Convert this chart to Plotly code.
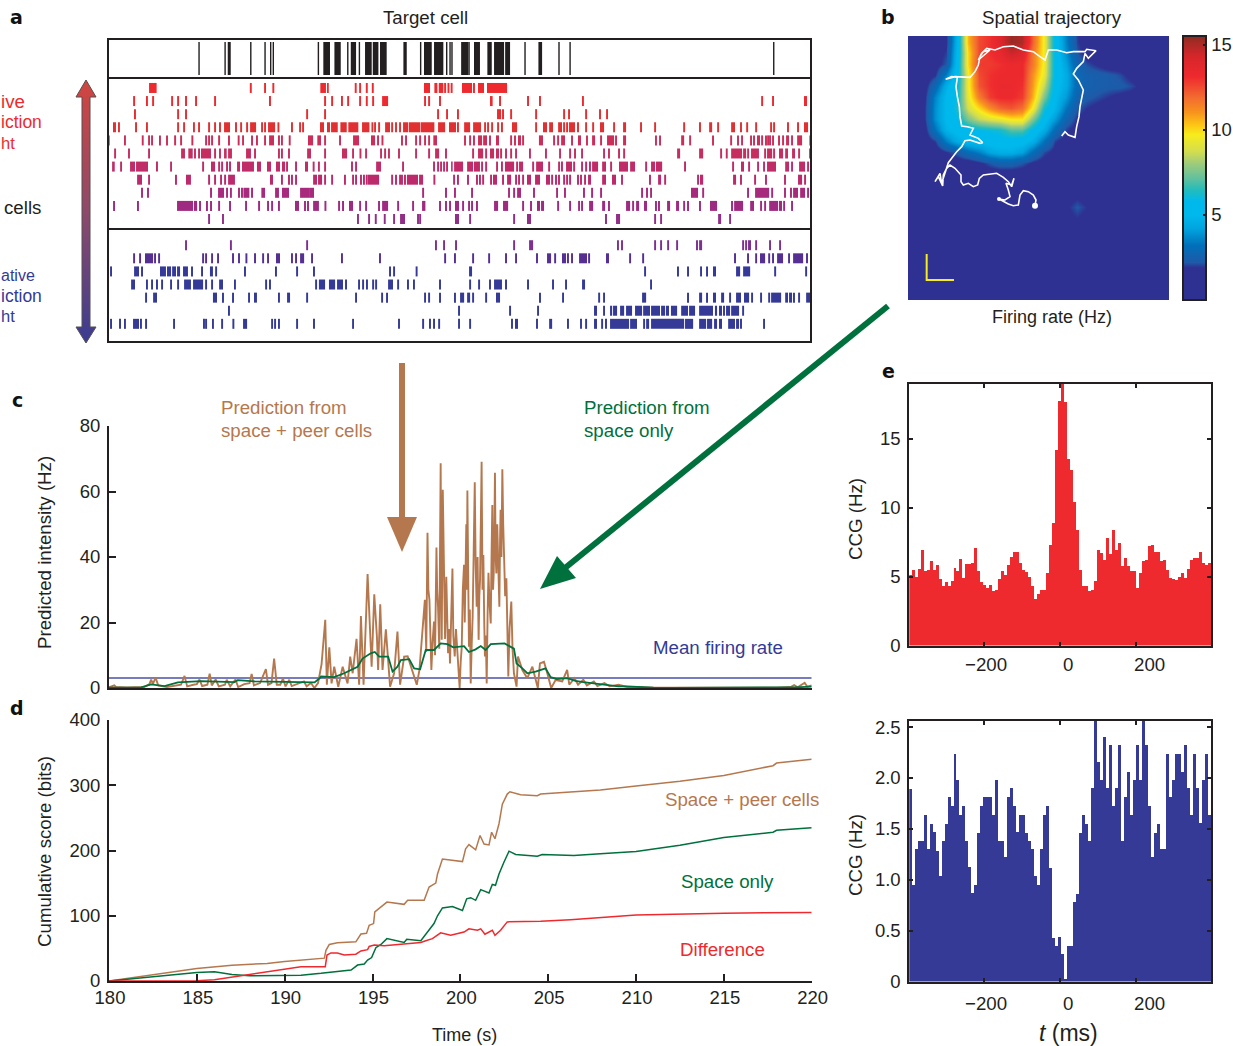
import plotly.graph_objects as go

W, H = 1233, 1046
INK = "#231F20"
RED = "#EE2A2E"
BLUE = "#343A96"
BROWN = "#B5784E"
GREEN = "#00703C"
FONT = "Liberation Sans"

# ---------- panel a: spike times (s); a float is one spike, a tuple is a burst (start, end)
target_cell = [185.19, 186.67, (186.82, 186.99), 188.13, 188.94, 189.26, 189.41, 191.97, (192.25, 192.63),
               (192.88, 193.24), 193.64, (193.81, 194.11), 194.30, (194.62, 195.0), (195.06, 195.38), (195.47, 195.85),
               (196.8, 196.99), 197.78, (197.97, 198.41), (198.54, 199.07), 199.26, 199.45, 199.56,
               (200.08, 200.49), 200.53, (200.81, 201.15), (201.57, 201.82), (201.95, 202.52), (202.58, 202.86),
               203.71, (204.47, 204.68), 205.64, 206.27, 217.84]
rows_top = [
    [(182.35, 182.78), 188.13, 188.94, 189.41, (192.08, 192.4), (192.46, 192.56), 194.09, 194.34, 194.72, 195.06,
     (197.97, 198.31), (198.56, 198.73), (198.81, 199.07), 199.17, 199.36, 199.54, (200.13, 200.7), 200.81,
     (201.04, 201.38), (201.55, 202.69)],
    [181.5, 182.23, 182.58, 183.66, 184.0, 184.45, 185.02, 186.1, 189.22, 192.35, 192.75, 193.31, 193.66, 194.34,
     194.72, 195.08, (195.59, 195.93), 198.03, 198.26, 198.88, (201.72, 201.87), 202.29, 203.88, 204.56, 207.0,
     217.18, 217.8, (219.56, 219.73)],
    [181.55, 184.0, 184.45, 191.33, 192.35, 198.77, 199.28, 199.9, (202.12, 202.35), 202.46, 202.92, 204.34, 205.93,
     206.21, 207.18, 207.97, 208.37],
    [(180.3, 180.47), 180.64, 181.61, 182.23, 184.0, 184.34, 184.9, 185.19, 185.76, 186.1, 186.38, (186.61, 186.95),
     187.29, 187.58, 187.92, (188.09, 188.43), 188.77, 188.94, (189.11, 189.51), 189.7, 190.47, 190.93, 191.1,
     (192.06, 192.29), (192.46, 192.63), (192.69, 193.07), (193.22, 193.58), (193.67, 194.24), (194.45, 194.87),
     195.04, 195.19, 195.42, (195.76, 196.04), 196.16, 196.38, 196.61, (196.78, 197.06), (197.1, 197.75),
     (197.78, 198.56), (198.77, 199.17), (199.39, 199.79), 199.9, (200.25, 200.59), (200.76, 201.21), 201.44, 201.61,
     201.84, 202.18, 202.4, (202.97, 203.26), 204.34, (204.73, 204.96), (205.08, 205.3), (205.59, 205.81), 205.93,
     206.1, (206.21, 206.55), 206.72, 207.18, 207.58, (207.97, 208.2), 208.77, (209.28, 209.45), 210.3, 211.1,
     212.75, 213.65, (214.17, 214.34), 214.68, (215.42, 215.64), 215.98, 216.33, 216.84, 217.69, 217.86, 218.65,
     219.22, (219.56, 219.79), 219.96],
    [180.06, 180.98, 181.99, 182.35, 182.52, 182.97, 183.37, 183.83, 184.17, 184.81, 185.59, 185.76, 185.93, 186.33,
     186.89, 187.44, 187.69, 188.2, 188.48, 188.94, (189.17, 189.45), 189.73, 189.9, 190.34, (191.38, 191.67),
     (191.91, 192.12), 192.35, 193.2, (193.94, 194.28), (194.96, 195.19), 195.36, 195.61, 196.72, 196.95, 197.52,
     197.75, 198.03, 198.26, (198.5, 198.71), 200.3, 200.59, 200.81, (201.04, 201.27), (201.33, 201.55), 201.72,
     (202.06, 202.23), 202.92, 203.14, (203.31, 203.48), 203.6, (204.5, 204.73), 205.36, 205.59, (205.76, 205.98),
     206.38, (206.72, 206.89), 207.23, (207.52, 207.69), 208.03, (208.37, 208.77), 208.88, (209.28, 209.45), 211.15,
     211.38, (212.58, 212.75), 213.09, 214.39, 215.42, 215.81, 216.04, 216.55, 216.72, (216.89, 217.06), 217.18,
     217.4, 217.52, 217.63, 217.8, 218.14, 218.37, (218.54, 218.71), 218.88, (219.17, 219.45), 219.92],
    [180.42, 181.21, 182.35, (184.17, 184.39), (184.58, 184.83), 184.96, 185.19, (185.3, 185.87), 186.1, 186.38,
     (186.61, 186.76), (186.84, 187.06), (187.86, 188.14), 188.37, 189.73, 189.9, 190.3, (191.33, 191.55), 192.35,
     (193.31, 193.6), 193.94, 194.36, 194.68, 195.53, 195.76, 195.98, 196.55, 197.52, 198.26, (198.6, 198.83), 199.22,
     200.76, (201.04, 201.33), 201.5, (201.72, 201.95), (202.06, 202.23), 202.35, 202.63, 202.92, 203.2, 203.99,
     204.9, 205.7, 206.27, 206.55, 206.95, 208.2, 208.48, 209.05, 209.34, (212.35, 212.52), (213.6, 213.83), 214.85,
     215.17, (215.42, 216.04), (216.1, 216.27), (216.33, 216.44), (216.55, 217.0), 217.35, (217.46, 217.75), 217.86,
     (218.14, 218.37), (218.49, 218.65), (218.88, 219.05), 219.28, (219.85, 220.0)],
    [(180.25, 180.4), 180.76, (181.27, 181.55), (181.61, 182.29), 182.8, 183.6, 185.42, (185.87, 186.1), 186.33, 186.5,
     186.78, 186.95, (187.35, 187.52), (187.63, 188.31), (188.48, 188.71), (189.05, 189.28), (189.56, 189.79),
     (189.9, 190.08), 190.19, 190.7, (191.21, 191.38), 191.7, 192.0, 192.35, 193.88, 194.11, (195.25, 195.53), 196.78,
     198.54, 198.77, 198.94, 199.11, 199.28, (199.51, 199.6), (199.68, 200.19), (200.42, 200.76), (200.81, 201.15),
     201.27, 201.5, 202.12, 202.4, (202.57, 203.09), 203.26, (203.37, 203.6), 204.17, (204.34, 204.73), 205.08,
     (205.59, 205.7), 205.81, (206.04, 206.38), 206.5, 206.95, 207.18, 207.4, (207.52, 207.86), (208.09, 208.31),
     208.6, (209.05, 209.56), (209.68, 209.96), 210.59, (210.87, 211.1), (211.15, 211.5), 212.8, 215.53,
     (215.98, 216.15), 216.44, 216.95, 217.29, (217.46, 217.97), (218.49, 218.71), 218.88, (219.28, 219.62), 219.79],
    [(181.67, 181.95), 182.35, 183.88, (184.45, 184.73), 185.76, 186.1, 186.44, 186.67, (186.84, 187.23),
     (189.22, 189.39), 189.9, 190.3, 190.47, 190.7, (191.67, 191.89), (191.95, 192.18), 192.35, 192.75, 193.48, 193.94,
     194.11, 194.39, 194.56, 194.72, (194.79, 195.42), 196.16, 196.38, 196.61, 196.72, 196.89, (197.0, 197.63),
     (197.69, 197.92), 198.56, 199.68, 199.9, 200.47, 200.98, 201.15, 201.33, 201.78, (201.89, 202.12), 202.46,
     (202.69, 202.92), 203.2, 203.37, 203.6, (203.82, 204.05), (204.28, 204.56), (204.9, 205.13), 205.25, 205.47,
     205.64, 205.93, 206.1, 206.27, 206.72, 206.89, 207.12, (207.29, 207.46), (208.09, 208.31), (208.65, 208.88),
     209.22, 210.81, (211.27, 211.44), 211.67, 213.54, (213.65, 213.83), (215.53, 215.7), 215.98, 216.78, 217.4,
     218.48, (219.22, 219.45), 219.62],
    [181.95, 182.29, 185.87, (186.27, 186.61), 186.78, 187.0, 187.46, 187.63, (187.71, 188.05), 188.2,
     (188.73, 188.94), (189.51, 189.73), (189.9, 190.3), (190.93, 191.44), (191.44, 191.72), 197.92, 199.22, 199.73,
     200.7, 202.8, 203.09, (203.26, 203.48), 204.22, 205.53, 205.98, 207.06, 207.52, 208.03, 210.36, 210.64, 210.87,
     (213.14, 213.54), 213.83, 216.38, (216.78, 217.58), 217.75, 218.48, 218.82, (218.94, 219.22), (219.34, 219.62),
     219.79],
    [180.36, 181.72, (183.94, 184.85), (184.9, 185.08), (185.19, 185.3), 185.64, 185.87, 186.33, 186.95, 187.86, 188.6,
     189.11, 189.34, 189.73, (190.64, 190.87), 191.21, 191.38, (191.67, 192.0), 192.37, (193.09, 193.2), 193.37,
     (193.71, 193.94), 194.34, 194.68, (195.36, 195.47), (195.59, 195.93), 196.5, 197.35, (197.86, 198.05), 198.88,
     199.22, 199.45, (199.73, 199.96), 200.19, 200.53, 200.7, 200.98, (201.95, 202.18), (202.46, 202.75), 203.6,
     204.05, (204.39, 204.56), (204.62, 204.79), 205.59, 206.27, 206.78, 206.95, (207.35, 207.58), (208.09, 208.26),
     208.48, (209.45, 209.68), 209.85, (210.02, 210.19), (210.47, 210.64), 211.15, 211.32, (211.78, 211.95),
     (212.29, 212.46), 212.75, 212.97, 213.65, (214.22, 214.62), 215.47, (215.59, 216.1), (216.5, 216.72), 217.12,
     217.35, (217.58, 218.09), (218.14, 218.31), 218.43, 218.88, 219.96],
    [185.76, 186.55, 194.22, 194.85, 195.23, 195.74, 196.27, (196.61, 196.89), 197.63, 197.75, (199.73, 199.96), 200.59,
     203.09, (203.82, 204.05), 208.31, (208.88, 209.11), 211.1, 211.44, (214.68, 214.85), 215.36],
]
rows_bottom = [
    [184.45, 187.0, 191.33, 198.65, 199.11, 199.79, 203.09, (203.94, 204.17), 208.99, 209.22, 211.1, 211.44, 211.84,
     212.35, 213.48, (213.6, 213.77), 216.1, 216.27, (216.38, 216.55), 216.84, 217.63, 218.2],
    [181.5, 181.84, (182.12, 182.58), 182.69, 182.92, 185.42, 185.59, 185.93, 186.27, 187.12, 187.46, 187.88, 188.37,
     188.83, 189.11, (189.56, 189.79), 190.47, 190.7, (190.93, 191.16), 191.61, 193.31, 195.47, 199.17, 199.73, 200.76,
     201.67, 202.63, 203.2, 204.39, (204.96, 205.19), 205.42, (205.81, 206.04), 206.15, 206.38, (206.78, 207.23),
     207.35, (208.31, 208.48), 209.68, 210.42, 215.64, 216.38, 216.84, (217.06, 217.35), 217.58, 217.8,
     (218.03, 218.37), 218.71, (218.94, 219.51), 219.73],
    [180.19, (181.5, 181.78), 181.95, (182.97, 183.31), (183.37, 183.6), (183.66, 183.88), (183.94, 184.11),
     (184.28, 184.56), 184.79, 185.36, (185.81, 185.98), 186.16, 187.8, 189.56, 190.76, 191.72, 196.04, 196.27, 197.55,
     (200.53, 200.7), 210.53, 212.4, 212.97, 213.71, 214.05, (214.39, 214.56), (215.7, 215.93), (216.1, 216.5), 217.92,
     219.68, 219.96],
    [(181.33, 181.55), 182.23, 182.52, 182.8, 183.09, 183.6, 184.0, (184.34, 184.73), (184.85, 185.42), 185.59, 185.93,
     (186.33, 186.55), 187.23, 189.0, 189.22, 191.84, (192.0, 192.35), (192.57, 192.92), (193.03, 193.37), 193.54,
     194.28, 194.51, 194.73, 195.08, 195.25, (195.93, 196.21), 196.5, 197.06, 197.4, 198.88, 200.59, 201.1, 201.72,
     (201.95, 202.4), 202.63, 203.88, 205.3, 206.04, (206.95, 207.12), 210.87, 219.96],
    [182.18, (182.58, 182.8), (185.98, 186.21), 186.55, 187.12, 188.03, (188.31, 188.48), 189.73, (190.19, 190.36),
     191.33, 194.11, 195.59, 195.87, 198.03, 198.26, 198.88, 199.73, (200.02, 200.25), (200.42, 200.59), 200.76, 201.5,
     (202.06, 202.29), 204.56, 205.87, 207.92, 208.2, (210.36, 210.59), 212.97, (213.6, 213.77), 214.05,
     (214.39, 214.56), (214.85, 215.02), 215.36, (215.7, 215.98), (216.15, 216.44), 216.61, 217.12, 217.58,
     (217.69, 218.26), (218.49, 218.65), (218.71, 218.88), 218.99, 219.28, (219.68, 219.92)],
    [186.89, 199.96, 202.86, 204.45, (207.63, 207.8), 208.2, (208.54, 208.66), (208.71, 208.94), (209.11, 209.34),
     (209.45, 209.79), (209.96, 210.36), (210.42, 210.81), (210.87, 211.38), (211.44, 211.67), (211.72, 211.89),
     (212.0, 212.35), (212.58, 212.97), (213.03, 213.37), (213.6, 214.39), (214.5, 214.62), (214.73, 214.9),
     (214.96, 215.07), (215.13, 215.36), (215.42, 215.87), 216.1],
    [180.19, 180.7, 180.98, (181.44, 181.78), 181.89, 182.18, 183.77, 185.47, 185.59, 185.98, 186.5, 187.14,
     (187.69, 187.92), 189.34, 189.51, 189.73, 190.76, 191.72, 193.94, 196.55, 197.92, 198.31, 198.54, 198.83, 199.96,
     200.59, 202.97, (203.14, 203.31), 204.39, (205.08, 205.25), 206.15, 206.89, 207.18, (207.63, 207.8), 208.09,
     208.31, (208.54, 209.62), (209.68, 210.07), (210.42, 210.53), (210.59, 210.76), (210.87, 212.75), (212.8, 213.26),
     (213.6, 214.0), (214.05, 214.34), (214.45, 214.62), (214.73, 214.9), (215.25, 215.64), (215.7, 215.87), 215.98,
     217.29],
]
colors_top = ["#EE2A2E", "#EC2A30", "#E62D30", "#E03032", "#CB2E58", "#C62E60", "#BF2C68", "#BC2A6C", "#A82A7C",
              "#9F2A82", "#922E88"]
colors_bottom = ["#7E3090", "#553092", "#34399A", "#343A98", "#343A96", "#343A96", "#343A96"]

# ---------- panel b: firing-rate map (Hz); short rows continue at the background rate
background_rate = 1.5
rate_map = [
    [1.5, 1.5, 1.5, 1.8, 4.8, 10.5, 12.5, 13, 14, 15.3, 15, 12, 9.5, 5.5, 3.5, 2, 1.5],
    [1.5, 1.5, 1.6, 2, 5, 10, 12.5, 13, 13.5, 14.5, 14, 11.5, 9.5, 5.5, 3.8, 2.2, 1.6],
    [1.5, 1.5, 1.6, 2.2, 5.2, 10, 12.8, 12.8, 13, 13.3, 13.2, 11.5, 9.5, 5.5, 4.2, 2.6, 2.1, 1.8],
    [1.5, 1.5, 1.9, 3.5, 5.5, 9.5, 12.5, 13, 13.2, 13.2, 13.2, 11, 9.3, 5.5, 4.5, 2.9, 2.5, 2.4, 2.3, 2.1, 1.7, 1.6],
    [1.5, 1.6, 2.8, 4.6, 5.8, 9.5, 12.3, 13, 13.3, 13.3, 13, 10.8, 8.5, 5.3, 4.4, 2.9, 2.5, 2.4, 2.3, 2.3, 2.1, 1.7],
    [1.5, 1.7, 3.6, 5, 6, 9.3, 11.5, 12.8, 13.2, 13.2, 12.8, 10.5, 7.5, 5, 4, 2.6, 2.3, 2.1, 1.9, 1.7, 1.6],
    [1.5, 1.8, 3.8, 5, 6.3, 8.8, 10, 11.2, 12, 12.3, 11.8, 9.5, 6.2, 4.8, 3.3, 2.2, 1.9, 1.7],
    [1.5, 1.8, 3.8, 5, 5.8, 7.5, 8.5, 9, 9.3, 9.8, 9.8, 7.5, 5.3, 4, 2.6, 1.9, 1.6],
    [1.5, 1.6, 3.2, 4.7, 5.2, 5.5, 5.8, 6, 6.2, 7, 7, 5.5, 4.5, 2.9, 2, 1.6],
    [1.5, 1.5, 2, 3.5, 4.5, 5, 5.2, 5.3, 5.4, 5.4, 5.2, 4.6, 3.2, 2, 1.6],
    [1.5, 1.5, 1.5, 1.9, 2.3, 3, 3.5, 4.3, 4.6, 4.6, 4.2, 3, 2.1, 1.7],
    [1.5, 1.5, 1.5, 1.5, 1.5, 1.5, 1.8, 2.2, 2.5, 2.5, 2.2, 1.8, 1.6],
    [1.5], [1.5],
    [1.5, 1.5, 1.5, 1.5, 1.5, 1.5, 1.5, 1.5, 1.5, 1.5, 1.5, 1.5, 1.5, 1.5, 1.6, 1.8, 1.6],
    [1.5, 1.5, 1.5, 1.5, 1.5, 1.5, 1.5, 1.5, 1.5, 1.5, 1.5, 1.5, 1.5, 1.5, 1.8, 2.2, 1.9],
    [1.5, 1.5, 1.5, 1.5, 1.5, 1.5, 1.5, 1.5, 1.5, 1.5, 1.5, 1.5, 1.5, 1.5, 1.7, 1.9, 1.7],
    [1.5], [1.5], [1.5], [1.5], [1.5], [1.5], [1.5],
]
rate_stops = [(0, "#2E3192"), (1.9, "#2E3192"), (2.2, "#1E5AA8"), (3.2, "#0070BA"), (4.2, "#00A4DF"), (5, "#00B9EC"),
              (5.8, "#00B9EC"), (6.5, "#26BCB8"), (7.1, "#5FC0A0"), (8, "#9ECB7C"), (8.7, "#D2DD50"), (9.7, "#F8EC1C"),
              (10.3, "#FCC415"), (11, "#F7941D"), (11.9, "#F26B30"), (13.1, "#EE2A2E"), (14.3, "#D6262B"),
              (15.1, "#A72A26"), (15.5, "#8A2C22")]
trajectory = [(381, 509), (384, 492), (376, 477), (361, 467), (346, 464), (336, 477), (331, 507), (316, 509), (301, 504),
              (286, 497), (273, 489), (291, 492), (306, 482), (301, 462), (294, 442), (311, 447), (318, 427), (311, 452),
              (301, 437), (286, 424), (266, 412), (246, 414), (226, 417), (214, 427), (209, 447), (196, 452), (181, 442),
              (166, 447), (159, 437), (159, 417), (141, 397), (126, 387), (116, 397), (106, 417), (104, 450), (91, 422),
              (81, 437), (96, 412), (101, 442), (111, 407), (121, 380), (131, 367), (146, 347), (161, 332), (171, 314),
              (186, 312), (201, 317), (216, 322), (224, 320), (211, 307), (186, 297), (196, 277), (178, 272), (161, 270),
              (156, 242), (154, 212), (148, 182), (144, 152), (148, 124), (131, 122), (113, 130), (141, 122), (186, 124),
              (201, 107), (211, 87), (216, 62), (226, 47), (246, 42), (211, 72), (221, 52), (236, 37), (261, 42), (286, 32),
              (316, 30), (346, 42), (376, 47), (396, 62), (411, 72), (421, 42), (446, 42), (476, 50), (496, 47), (531, 47),
              (536, 40), (564, 44), (541, 67), (531, 52), (526, 77), (506, 97), (496, 114), (511, 132), (526, 162),
              (516, 212), (513, 242), (506, 272), (501, 304), (481, 297), (471, 287), (461, 300)]

# ---------- panel c: predicted intensity (s, Hz)
mean_rate = 3.05
pred_full = [(180, 0.2), (180.3, 0.8), (180.4, 0.3), (181, 0.2), (182, 0.3), (182.3, 1.2), (182.4, 2.6), (182.5, 1.2),
             (182.65, 3.2), (182.8, 0.8), (183.3, 0.3), (183.8, 0.8), (184.1, 1), (184.3, 3.7), (184.45, 0.5), (184.8, 1),
             (185, 1.2), (185.15, 2.6), (185.3, 0.6), (185.6, 1), (185.73, 4.4), (185.85, 0.8), (186.07, 2.6),
             (186.25, 0.5), (186.6, 1), (186.7, 2.5), (186.9, 0.5), (187.2, 2.6), (187.35, 0.3), (187.7, 1.2), (188, 1.5),
             (188.12, 4.3), (188.25, 0.8), (188.6, 1.5), (188.93, 5.8), (189.05, 1), (189.25, 1.5), (189.4, 9),
             (189.55, 1), (189.75, 1), (189.9, 2.9), (190.05, 0.5), (190.26, 2.5), (190.4, 0.6), (190.9, 1.5), (191.1, 2),
             (191.25, 0.5), (191.5, 1.5), (191.69, 0), (191.9, 1.5), (192.1, 7.3), (192.31, 20.8), (192.4, 1),
             (192.54, 12.4), (192.67, 1.4), (192.82, 6.5), (193.05, 0.4), (193.3, 6.5), (193.58, 1.4), (193.73, 9.6),
             (193.87, 4.5), (194.09, 15), (194.24, 1), (194.34, 22), (194.49, 1), (194.72, 34.8), (194.95, 6.5),
             (195.1, 28.6), (195.25, 15.7), (195.32, 5.5), (195.44, 25.6), (195.57, 5.5), (195.76, 17.9), (196.0, 0.4),
             (196.23, 4.5), (196.42, 17.2), (196.57, 1), (196.8, 9.6), (197, 9.7), (197.27, 5.5), (197.52, 1),
             (197.67, 5.5), (197.84, 18.7), (197.98, 26.9), (198.02, 19), (198.06, 11), (198.13, 47.4), (198.18, 30),
             (198.24, 26.9), (198.3, 12), (198.35, 5.5), (198.42, 14), (198.5, 20.3), (198.56, 10), (198.64, 42.9),
             (198.68, 30), (198.73, 24.8), (198.8, 12), (198.88, 68.6), (198.91, 35), (198.94, 14.7), (199.0, 60.5),
             (199.04, 40), (199.07, 26.9), (199.13, 15), (199.2, 34), (199.25, 20), (199.3, 10.6), (199.36, 18),
             (199.41, 7.5), (199.48, 22), (199.55, 36.5), (199.6, 16), (199.68, 9.6), (199.75, 18), (199.83, 10.6),
             (199.9, 5), (199.96, 0), (200.02, 8), (200.08, 12.6), (200.14, 30), (200.21, 37.6), (200.25, 20),
             (200.29, 36), (200.34, 50), (200.37, 30), (200.4, 60.3), (200.44, 38), (200.49, 12.6), (200.54, 24),
             (200.59, 1.4), (200.65, 14), (200.7, 21.8), (200.76, 42), (200.82, 62.8), (200.87, 38), (200.93, 24.8),
             (200.98, 40), (201.04, 14.7), (201.08, 28), (201.12, 33), (201.17, 52), (201.21, 69.1), (201.26, 30),
             (201.31, 40.6), (201.36, 20), (201.4, 9.6), (201.45, 16), (201.5, 1.4), (201.55, 22), (201.6, 35.2),
             (201.66, 26), (201.73, 19.7), (201.78, 42), (201.82, 55.9), (201.86, 30), (201.9, 35), (201.94, 50),
             (201.97, 65.7), (202.01, 40), (202.05, 35), (202.1, 50), (202.14, 43), (202.18, 30), (202.22, 24.8),
             (202.26, 45), (202.29, 54.4), (202.34, 40), (202.39, 66.8), (202.44, 50), (202.48, 43), (202.55, 28),
             (202.62, 33.5), (202.68, 15), (202.73, 3.5), (202.8, 18), (202.9, 26.4), (202.97, 12), (203.05, 4.5),
             (203.2, 0.4), (203.28, 9.6), (203.53, 5.5), (203.81, 3),
             (204.1, 6.5), (204.28, 2.4), (204.41, 0), (204.53, 7.5), (204.76, 8), (204.95, 4.5), (205.17, 0),
             (205.42, 2.4), (205.8, 2), (206.08, 5.5), (206.2, 1), (206.5, 3), (206.7, 1), (207, 2.5), (207.2, 0.8),
             (207.6, 2), (207.8, 0.6), (208.2, 1.5), (208.5, 0.5), (209, 1), (209.5, 0.3), (210, 0.3), (211, 0.1), (218, 0.1),
             (218.8, 0.3), (219, 0.9), (219.2, 0.2), (219.6, 1.6), (219.75, 0.4), (220, 0.8)]
pred_space = [(180, 0.1), (181.83, 0.2), (182.4, 1.1), (183.16, 0.6), (183.92, 1.7), (185.24, 2.1), (187.14, 1.8),
              (187.33, 2.4), (188.27, 2), (190.9, 1.6), (191.7, 1.7), (191.97, 2.9), (192.07, 3.5), (192.82, 3.3),
              (193.39, 4.5), (194.15, 6.5), (194.43, 9), (194.9, 10.6), (195.13, 11), (195.38, 9.6), (195.89, 9.6),
              (196.14, 5), (196.42, 6.5), (196.61, 8.5), (197.09, 8.8), (197.37, 6), (197.71, 5.7), (198.03, 11.6),
              (198.5, 11.6), (198.88, 13.6), (199.26, 13.4), (199.6, 12.4), (200.21, 12.8), (200.49, 11), (200.87, 11.8),
              (201.16, 12.8), (201.44, 11.6), (201.73, 13.4), (202.52, 13.6), (203.05, 12), (203.2, 7.5), (203.53, 6),
              (203.81, 4.5), (204.28, 5), (204.85, 6), (205.14, 3.3), (205.5, 2.7), (206.08, 3), (206.55, 2.2), (207, 1.8),
              (207.5, 1.5), (208, 1), (209, 0.5), (209.5, 0.5), (210, 0.3), (211, 0.1), (212, 0), (218, 0), (219, 0.2),
              (220, 0.4)]

# ---------- panel d: cumulative score (s, bits)
score_full = [(180, 0), (182, 8), (184, 15), (185, 19), (187, 24), (189, 27), (190, 30), (190.93, 32), (192.26, 35),
              (192.35, 47), (192.54, 56), (193, 58.5), (194.05, 60), (194.34, 72), (194.66, 73), (194.81, 85.5),
              (195.06, 88), (195.13, 106), (195.48, 113.5), (195.82, 121), (196.8, 117.5), (197, 123.7), (197.94, 123.7),
              (198.22, 144), (198.6, 150), (198.7, 164), (198.98, 187), (200.12, 183), (200.3, 202.5), (200.49, 209),
              (200.87, 201), (201.12, 223), (201.35, 210), (201.63, 208.6), (201.78, 228), (201.97, 218), (202.2, 241),
              (202.39, 271), (202.67, 286.5), (202.82, 290), (203.43, 285.5), (204.38, 284), (204.57, 286.5), (206.27, 289),
              (207.97, 292.6), (210, 299), (212.5, 306), (215, 315), (217.8, 330), (218, 334), (220, 340)]
score_space = [(180, 0), (182, 5), (184, 10), (185, 13), (186, 14), (187, 10), (188, 8), (190, 8), (190.93, 9), (192.07, 11.7),
               (193, 14), (193.78, 16.8), (194.15, 24.4), (194.53, 26), (194.72, 32), (194.95, 36), (195.19, 51),
               (195.48, 56), (195.82, 65), (196.8, 59), (196.95, 64), (197.75, 61.6), (198.13, 75), (198.5, 88), (198.7, 100),
               (198.98, 112), (199.55, 114), (200.12, 108), (200.36, 126), (200.59, 127.7), (200.87, 123.7), (201.16, 140),
               (201.63, 135), (201.82, 148), (202, 146.6), (202.2, 164), (202.48, 182), (202.77, 199), (203.15, 194),
               (204.38, 191.3), (204.66, 194), (206.46, 192.4), (207.97, 195), (210, 198.5), (212.5, 208), (215, 220),
               (217.8, 228), (218, 231), (220, 235)]
score_diff = [(180, 0), (185, 0.5), (186, 2), (188, 10), (190, 18), (190.93, 22), (192.31, 22), (192.41, 39.7), (192.63, 43),
              (193, 43), (193.39, 40), (194.05, 41), (194.34, 46), (194.72, 48), (194.81, 53), (195.1, 55), (195.66, 54),
              (197.75, 59), (198.03, 61.6), (198.41, 65), (198.88, 73.8), (199.45, 70), (200.21, 75), (200.49, 80),
              (200.97, 77.8), (201.16, 80), (201.4, 71.7), (201.82, 77.8), (201.97, 70), (202.29, 77.8), (202.67, 90.6),
              (204.57, 91.6), (206.27, 94), (207.97, 97), (210, 101), (215, 104), (220, 105)]

# ---------- panels e, f: cross-correlograms (Hz per lag bin)
lag_start, lag_step = -394, 7.86
ccg_positive = [5.1, 5.5, 5.0, 5.55, 6.95, 5.4, 5.5, 6.1, 5.5, 5.85, 4.8, 4.3, 4.6, 4.3, 4.65, 5.6, 5.4, 6.3, 4.9, 5.9,
                5.9, 6.0, 7.1, 5.4, 4.6, 4.4, 4.2, 4.4, 3.95, 4.05, 4.8, 5.4, 5.1, 5.85, 6.4, 6.8, 6.8, 6.0, 5.5, 5.35,
                5.0, 4.3, 3.35, 3.7, 4.05, 4.05, 5.25, 7.3, 8.9, 14.15, 17.7, 19, 17.65, 13.55, 12.7, 10.4, 8.4, 5.5, 4.3,
                4.3, 3.95, 4.05, 4.65, 6.95, 6.7, 6.2, 7.8, 6.6, 8.4, 6.95, 7.4, 5.75, 6.35, 5.75, 5.4, 5.4, 4.2, 5.25,
                6.1, 6.2, 7.2, 7.25, 6.8, 6.8, 6.1, 6.2, 5.5, 4.9, 4.8, 4.75, 5.0, 5.25, 4.9, 5.55, 6.2, 6.35, 6.35, 6.8,
                6.0, 5.85, 6.0]
ccg_negative = [1.89, 0.95, 1.3, 1.38, 1.38, 1.64, 1.3, 1.55, 1.47, 1.28, 1.04, 1.38, 1.55, 1.81, 1.72, 2.24, 1.98, 1.64,
                1.72, 1.38, 1.13, 0.87, 0.95, 1.46, 1.72, 1.81, 1.81, 1.81, 1.64, 1.98, 1.38, 1.38, 1.22, 1.81, 1.9, 1.72,
                1.47, 1.64, 1.64, 1.46, 1.38, 1.3, 1.04, 0.95, 1.3, 1.64, 1.72, 1.12, 0.43, 0.35, 0.44, 0.27, 0.02, 0.35,
                0.35, 0.78, 0.86, 1.46, 1.64, 1.55, 1.38, 1.9, 2.57, 2.16, 1.98, 2.4, 1.9, 2.32, 1.72, 1.9, 2.32, 1.38,
                1.81, 2.06, 1.64, 1.98, 2.32, 1.98, 2.57, 2.32, 1.72, 1.22, 1.46, 1.55, 1.3, 1.3, 2.24, 1.81, 1.98, 2.24,
                2.24, 2.06, 2.32, 1.9, 1.64, 2.24, 1.9, 1.56, 1.98, 2.24, 1.64]


def dx(a, b):
    return [a / W, b / W]


def dy(top, bottom):
    return [1 - bottom / H, 1 - top / H]


def unzip(pairs):
    return [p[0] for p in pairs], [p[1] for p in pairs]


def raster(spikes, row, half):
    xs, ys = [], []
    for s in spikes:
        a, b = s if isinstance(s, tuple) else (s - half, s + half)
        xs += [a, b, None]
        ys += [row, row, None]
    return xs, ys


fig = go.Figure()
LINE = dict(mode="lines", hoverinfo="skip", showlegend=False)

# panel a
x_, y_ = raster(target_cell, -2.25, 0.04)
fig.add_trace(go.Scatter(x=x_, y=y_, xaxis="x", yaxis="y", line=dict(color=INK, width=33, simplify=False), **LINE))
for i, (spikes, colour) in enumerate(list(zip(rows_top, colors_top)) + [([], "#000000")] + list(zip(rows_bottom, colors_bottom))):
    x_, y_ = raster(spikes, i, 0.055)
    fig.add_trace(go.Scatter(x=x_, y=y_, xaxis="x", yaxis="y", line=dict(color=colour, width=10, simplify=False), **LINE))

# panel b
cols = 24
grid = [row + [background_rate] * (cols - len(row)) for row in rate_map]
cell_w, cell_h = 783 / cols, 792 / len(grid)
fig.add_trace(go.Heatmap(z=grid, x=[cell_w * (i + 0.5) for i in range(cols)],
                         y=[cell_h * (j + 0.5) for j in range(len(grid))],
                         xaxis="x2", yaxis="y2", zmin=0, zmax=15.5, zsmooth="best", hoverinfo="skip",
                         colorscale=[[v / 15.5, c] for v, c in rate_stops],
                         colorbar=dict(x=1183 / W, xanchor="left", y=1 - 36 / H, yanchor="top", thickness=23,
                                       lenmode="fraction", len=263.5 / H, xpad=0, ypad=0, outlinewidth=2,
                                       outlinecolor=INK, ticks="inside", ticklen=4, tickwidth=2, tickcolor=INK,
                                       tickvals=[5, 10, 15], tickfont=dict(size=18.5, color=INK, family=FONT))))
tx, ty = unzip(trajectory)
fig.add_trace(go.Scatter(x=tx, y=ty, xaxis="x2", yaxis="y2", line=dict(color="white", width=1.6), **LINE))
fig.add_trace(go.Scatter(x=[tx[0], tx[10]], y=[ty[0], ty[10]], xaxis="x2", yaxis="y2", mode="markers", hoverinfo="skip",
                         showlegend=False, marker=dict(color="#FFFFFF", size=[6, 4], opacity=1, line=dict(width=0))))
fig.add_trace(go.Scatter(x=[56, 56, 138], y=[654, 732, 732], xaxis="x2", yaxis="y2",
                         line=dict(color="#F7EC1C", width=2), **LINE))

# panel c
fig.add_trace(go.Scatter(x=[180, 220], y=[mean_rate, mean_rate], xaxis="x3", yaxis="y3",
                         line=dict(color="#4A50A8", width=1.5), **LINE))
px_, py_ = unzip(pred_full)
fig.add_trace(go.Scatter(x=px_, y=py_, xaxis="x3", yaxis="y3", line=dict(color=BROWN, width=1.9), **LINE))
px_, py_ = unzip(pred_space)
fig.add_trace(go.Scatter(x=px_, y=py_, xaxis="x3", yaxis="y3", line=dict(color=GREEN, width=1.8), **LINE))

# panel d
for series, colour in ((score_full, BROWN), (score_space, GREEN), (score_diff, RED)):
    sx, sy = unzip(series)
    fig.add_trace(go.Scatter(x=sx, y=sy, xaxis="x4", yaxis="y4", line=dict(color=colour, width=1.5), **LINE))

# panels e, f
for values, colour, xa, ya in ((ccg_positive, RED, "x5", "y5"), (ccg_negative, BLUE, "x6", "y6")):
    fig.add_trace(go.Bar(x=[lag_start + lag_step * i for i in range(len(values))], y=values, width=lag_step,
                         marker=dict(color=colour, line=dict(width=0)), xaxis=xa, yaxis=ya, hoverinfo="skip",
                         showlegend=False))

# arrows on a full-page overlay
fig.add_trace(go.Scatter(x=[86, 96, 90, 90, 96, 86, 76, 82, 82, 76, 86],
                         y=[80, 97, 97, 327, 327, 343, 327, 327, 97, 97, 80], xaxis="x7", yaxis="y7", fill="toself",
                         fillgradient=dict(type="vertical", start=80, stop=343,
                                           colorscale=[[0, "#D2453F"], [0.5, "#8E4A6A"], [1, "#3A3C92"]]),
                         line=dict(color="#55504F", width=1), **LINE))
fig.add_trace(go.Scatter(x=[402, 402], y=[363, 520], xaxis="x7", yaxis="y7", line=dict(color=BROWN, width=6), **LINE))
fig.add_trace(go.Scatter(x=[387, 417, 402, 387], y=[517, 517, 552, 517], xaxis="x7", yaxis="y7", fill="toself",
                         fillcolor=BROWN, line=dict(color=BROWN, width=0), **LINE))
fig.add_trace(go.Scatter(x=[888, 565], y=[306, 568], xaxis="x7", yaxis="y7", line=dict(color=GREEN, width=6), **LINE))
fig.add_trace(go.Scatter(x=[540, 557, 576, 540], y=[589, 556, 578, 589], xaxis="x7", yaxis="y7", fill="toself",
                         fillcolor=GREEN, line=dict(color=GREEN, width=0), **LINE))


def ann(text, x, y, color=INK, size=18.7, anchor="center", angle=0, family=FONT):
    return dict(text=text, x=x / W, y=1 - y / H, xref="paper", yref="paper", showarrow=False, xanchor=anchor,
                yanchor="middle", align=anchor if anchor != "center" else "center", textangle=angle,
                borderpad=0, borderwidth=0, font=dict(color=color, size=size, family=family))


notes = [
    ann("<b>a</b>", 16, 17, "#111111", 19, family="DejaVu Sans"),
    ann("<b>b</b>", 888, 17, "#111111", 19, family="DejaVu Sans"),
    ann("<b>c</b>", 17, 400, "#111111", 19, family="DejaVu Sans"),
    ann("<b>d</b>", 17, 708, "#111111", 19, family="DejaVu Sans"),
    ann("<b>e</b>", 888, 371, "#111111", 19, family="DejaVu Sans"),
    ann("Target cell", 425, 18), ann("Spatial trajectory", 1052, 18), ann("Firing rate (Hz)", 1052, 317, size=18),
    ann("ive", 1, 101, RED, anchor="left"), ann("iction", 1, 122, RED, size=17.5, anchor="left"),
    ann("ht", 1, 143, RED, size=16.5, anchor="left"),
    ann("cells", 41, 207, anchor="right"),
    ann("ative", 1, 275, BLUE, size=16, anchor="left"), ann("iction", 1, 296, BLUE, size=17.5, anchor="left"),
    ann("ht", 1, 316, BLUE, size=16.5, anchor="left"),
    ann("Prediction from", 221, 407, BROWN, anchor="left"), ann("space + peer cells", 221, 430, BROWN, anchor="left"),
    ann("Prediction from", 584, 407, GREEN, anchor="left"), ann("space only", 584, 430, GREEN, anchor="left"),
    ann("Mean firing rate", 653, 647, BLUE, anchor="left"),
    ann("Space + peer cells", 665, 799, BROWN, anchor="left"), ann("Space only", 681, 881, GREEN, anchor="left"),
    ann("Difference", 680, 949, RED, anchor="left"),
    ann("Predicted intensity (Hz)", 44, 553, angle=-90), ann("Cumulative score (bits)", 44, 852, angle=-90),
    ann("Time (s)", 464, 1035, size=18), ann("CCG (Hz)", 855, 519, angle=-90), ann("CCG (Hz)", 855, 855, angle=-90),
    ann("−200", 986, 664), ann("0", 1068, 664), ann("200", 1149, 664),
    ann("−200", 986, 1003), ann("0", 1068, 1003), ann("200", 1149, 1003),
    ann("<i>t</i> (ms)", 1068, 1033, size=23),
]

AX = dict(tickcolor=INK, tickwidth=1.5, showgrid=False, zeroline=False, linecolor=INK, linewidth=2, showline=True)
TF = dict(size=18.5, color=INK, family=FONT)
HIDDEN = dict(visible=False, showgrid=False, zeroline=False)

row_sep_top, row_sep_bottom = -0.76, 10.76
fig.update_layout(
    width=W, height=H, margin=dict(l=0, r=0, t=0, b=0, pad=0, autoexpand=False), paper_bgcolor="white",
    plot_bgcolor="rgba(0,0,0,0)",
    showlegend=False, bargap=0, annotations=notes, font=dict(family=FONT, color=INK),
    xaxis=dict(domain=dx(109, 810), range=[180.074, 219.9], anchor="y", showticklabels=False, ticks="", mirror=True,
               showline=True, linecolor=INK, linewidth=2, showgrid=False, zeroline=False),
    yaxis=dict(domain=dy(40, 341), range=[19.31, -3.66], anchor="x", showticklabels=False, ticks="", mirror=True,
               showline=True, linecolor=INK, linewidth=2, showgrid=False, zeroline=False),
    xaxis2=dict(domain=dx(908, 1169), range=[0, 783], anchor="y2", **HIDDEN),
    yaxis2=dict(domain=dy(36, 300), range=[792, 0], anchor="x2", **HIDDEN),
    xaxis3=dict(domain=dx(109, 811.7), range=[180, 220], anchor="y3", showticklabels=False, ticks="", showline=True,
                linecolor=INK, linewidth=1.5, showgrid=False, zeroline=False),
    yaxis3=dict(domain=dy(426, 688), range=[0, 80], anchor="x3", ticks="inside", ticklen=7, tickfont=TF,
                ticklabelstandoff=3, tickvals=[0, 20, 40, 60, 80], **AX),
    xaxis4=dict(domain=dx(109, 811.7), range=[180, 220], anchor="y4", ticks="inside", ticklen=7, tickfont=TF,
                ticklabelstandoff=-1, ticklabelshift=1,
                tickvals=[180, 185, 190, 195, 200, 205, 210, 215, 220], **AX),
    yaxis4=dict(domain=dy(720, 981), range=[0, 400], anchor="x4", ticks="inside", ticklen=7, tickfont=TF,
                ticklabelstandoff=3, tickvals=[0, 100, 200, 300, 400], **AX),
    xaxis5=dict(domain=dx(909.3, 1211), range=[-397, 396], anchor="y5", ticks="inside", mirror="ticks",
                tickvals=[-200, 0, 200], showticklabels=False, ticklen=4, **AX),
    yaxis5=dict(domain=dy(384, 645.5), range=[0, 18.95], anchor="x5", ticks="inside", mirror="ticks",
                tickvals=[0, 5, 10, 15], ticklen=4, tickfont=TF, ticklabelstandoff=3, **AX),
    xaxis6=dict(domain=dx(909.3, 1211), range=[-397, 396], anchor="y6", ticks="inside", mirror="ticks",
                tickvals=[-200, 0, 200], showticklabels=False, ticklen=4, **AX),
    yaxis6=dict(domain=dy(721, 981.5), range=[0, 2.56], anchor="x6", ticks="inside", mirror="ticks",
                tickvals=[0, 0.5, 1, 1.5, 2, 2.5], ticktext=["0", "0.5", "1.0", "1.5", "2.0", "2.5"],
                ticklen=4, tickfont=TF, ticklabelstandoff=3, **AX),
    xaxis7=dict(domain=[0, 1], range=[0, W], anchor="y7", **HIDDEN),
    yaxis7=dict(domain=[0, 1], range=[H, 0], anchor="x7", **HIDDEN),
    shapes=[dict(type="line", xref="x domain", yref="y", x0=0, x1=1, y0=v, y1=v, line=dict(color=INK, width=2))
            for v in (row_sep_top, row_sep_bottom)],
)

fig.write_html("out.html", config={"displayModeBar": False},
               post_script="document.body.style.margin='0';document.body.style.overflow='hidden';")
